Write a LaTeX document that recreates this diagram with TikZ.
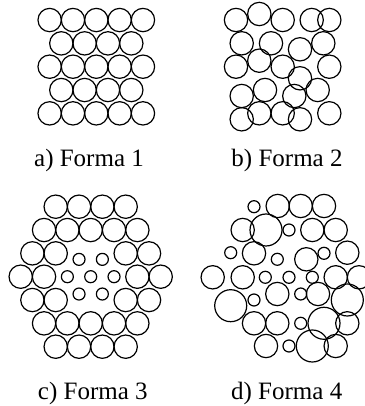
\documentclass[tikz,border=0pt]{standalone}
\usepackage{fontspec}
\setmainfont{Liberation Serif}
\usepackage{tikz}
\usetikzlibrary{positioning}

\tikzset{
	bolla/.style={draw=black,line width=0.6pt},
	etichetta/.style={anchor=base,inner sep=0pt,font=\fontsize{12.5}{15}\selectfont}
}

\begin{document}
\begin{tikzpicture}[x=0.5pt,y=0.5pt]
	
	\useasboundingbox (0,0) rectangle (364,406);
	
	\begin{scope}[shift={(96.3,339.3)}]
		\foreach \j in {-2,0,2}
		\foreach \k in {-2,...,2}
		\draw[bolla] (\k*23.33,\j*23.33) circle (11.67);
		\foreach \j in {-1,1}
		\foreach \k in {-1.5,-0.5,0.5,1.5}
		\draw[bolla] (\k*23.33,\j*23.33) circle (11.67);
	\end{scope}
	
	\foreach \x/\y in {236/386,259.3/392,282.7/386,311.7/386,329.3/386,
		241.7/362.7,271/362.7,300/356.7,323.3/362.7,
		236/339.3,259.3/345.3,282.7/339.3,300/327.7,329.3/339.3,
		241.7/310,265/316,294.3/310,317.7/316,
		241.7/286.7,259.3/292.7,282.7/292.7,300/286.7,329.3/292.7}
	\draw[bolla] (\x,\y) circle (11.67);
	
	\begin{scope}[shift={(90.7,129.3)}]
		\foreach \j in {-3,3}
		\foreach \k in {-1.5,-0.5,0.5,1.5}
		\draw[bolla] (\k*23.33,\j*23.33) circle (11.67);
		\foreach \j in {-2,2}
		\foreach \k in {-2,...,2}
		\draw[bolla] (\k*23.33,\j*23.33) circle (11.67);
		\foreach \j in {-1,1}
		{
			\foreach \k in {-2.5,-1.5,1.5,2.5}
			\draw[bolla] (\k*23.33,\j*23.33) circle (11.67);
			\foreach \k in {-0.5,0.5}
			\draw[bolla] (\k*23.33,\j*17.33) circle (6);
		}
		\foreach \k in {-3,-2,2,3}
		\draw[bolla] (\k*23.33,0) circle (11.67);
		\foreach \k in {-1,0,1}
		\draw[bolla] (\k*23.33,0) circle (6);
	\end{scope}
	
	\foreach \x/\y/\r in {254/199.3/6,277.7/200/11.67,300.7/200/11.67,324/200/11.67,
		242.7/176/11.67,266/176/16,289/176/6,312.3/176/11.67,335.7/176/11.67,
		230.7/153.3/6,254/152.7/11.67,277.3/146.7/6,306.3/146.7/11.67,324/152.7/6,347.3/153.3/11.67,
		212.7/128.7/11.67,242.7/128.7/11.67,265.3/128.7/6,289/128.7/6,312.3/128.7/6,335.7/128.7/11.67,359/128.7/11.67,
		230.7/100.3/16,254/106/6,277.3/112/11.67,300.7/112/6,318/112/11.67,347.3/106/16,
		254/82.7/11.67,277.3/82.7/11.67,300.7/82.7/6,324/82.7/16,347.3/82.7/11.67,
		266/60/11.67,289/60/6,312.3/60/16,335.7/60/11.67}
	\draw[bolla] (\x,\y) circle (\r);
	
	\node[etichetta] (formaA) at (89,239.3) {a) Forma 1};
	\node[etichetta] (formaB) at (287,239.3) {b) Forma 2};
	\node[etichetta] (formaC) at (92.8,6) {c) Forma 3};
	\node[etichetta] (formaD) at (286.7,6) {d) Forma 4};
	
\end{tikzpicture}
\end{document}
